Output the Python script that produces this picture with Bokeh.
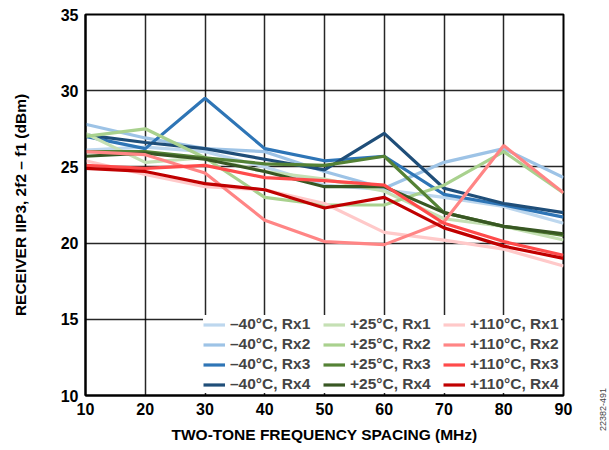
import math
from bokeh.plotting import figure
from bokeh.models import Legend, LegendItem, FixedTicker, Range1d, Div
from bokeh.layouts import row
from bokeh.embed import file_html
from bokeh.resources import INLINE

freq = [10, 20, 30, 40, 50, 60, 70, 80, 90]

m40_rx1 = [26.1, 26.3, 26.0, 25.0, 23.8, 23.5, 23.0, 22.4, 21.3]
m40_rx2 = [27.8, 26.9, 26.2, 26.0, 24.7, 23.6, 25.3, 26.2, 24.3]
m40_rx3 = [27.0, 26.2, 29.5, 26.2, 25.4, 25.7, 23.2, 22.5, 21.7]
m40_rx4 = [27.1, 26.6, 26.2, 25.5, 24.8, 27.2, 23.6, 22.6, 22.0]

p25_rx1 = [27.2, 25.3, 25.6, 24.7, 24.2, 23.4, 21.6, 21.1, 20.2]
p25_rx2 = [27.0, 27.5, 25.6, 23.0, 22.5, 22.5, 23.8, 26.0, 23.3]
p25_rx3 = [26.0, 26.0, 25.6, 25.2, 25.1, 25.7, 22.0, 21.1, 20.5]
p25_rx4 = [25.7, 25.9, 25.5, 24.7, 23.7, 23.7, 22.0, 21.1, 20.6]

p110_rx1 = [25.4, 24.5, 23.7, 23.5, 22.6, 20.7, 20.2, 19.6, 18.5]
p110_rx2 = [26.0, 25.8, 24.6, 21.5, 20.1, 19.9, 21.4, 26.4, 23.3]
p110_rx3 = [25.1, 24.9, 25.1, 24.3, 24.1, 23.8, 21.3, 20.1, 19.2]
p110_rx4 = [24.9, 24.7, 23.9, 23.5, 22.3, 23.0, 21.0, 19.8, 19.0]

labels = ["\u201340\u00b0C, Rx1", "\u201340\u00b0C, Rx2", "\u201340\u00b0C, Rx3", "\u201340\u00b0C, Rx4",
          "+25\u00b0C, Rx1", "+25\u00b0C, Rx2", "+25\u00b0C, Rx3", "+25\u00b0C, Rx4",
          "+110\u00b0C, Rx1", "+110\u00b0C, Rx2", "+110\u00b0C, Rx3", "+110\u00b0C, Rx4"]
series = [m40_rx1, m40_rx2, m40_rx3, m40_rx4,
          p25_rx1, p25_rx2, p25_rx3, p25_rx4,
          p110_rx1, p110_rx2, p110_rx3, p110_rx4]
colors = ["#bdd7ee", "#9dc3e6", "#2e75b6", "#1f4e79",
          "#c5e0b4", "#a9d18e", "#548235", "#385723",
          "#ffc9c9", "#ff8585", "#ff4b4b", "#c00000"]

x_ticks = [10, 20, 30, 40, 50, 60, 70, 80, 90]
y_ticks = [10, 15, 20, 25, 30, 35]

FONT = "Liberation Sans"

p = figure(width=588, height=450, output_backend="svg", toolbar_location=None,
           x_range=Range1d(10, 90), y_range=Range1d(10, 35),
           min_border_left=85, min_border_right=25, min_border_top=14, min_border_bottom=55)

renderers = []
for ys, c in zip(series, colors):
    r = p.line(freq, ys, line_color=c, line_width=3.2)
    renderers.append(r)

items = [LegendItem(label=l, renderers=[r]) for l, r in zip(labels, renderers)]
legend = Legend(items=items, location="bottom_right", orientation="vertical", nrows=4,
                background_fill_color="white", background_fill_alpha=1.0,
                border_line_color=None, label_text_font=FONT, label_text_font_style="bold",
                label_text_font_size="15.5px", glyph_width=22, glyph_height=17,
                label_standoff=5, spacing=2, padding=5, margin=2, label_width=91,
                label_height=17, label_text_line_height=1.0)
p.add_layout(legend, "center")

p.xaxis.ticker = FixedTicker(ticks=x_ticks)
p.yaxis.ticker = FixedTicker(ticks=y_ticks)
for ax in (p.xaxis, p.yaxis):
    ax.major_tick_in = 0
    ax.major_tick_out = 0
    ax.minor_tick_in = 0
    ax.minor_tick_out = 0
    ax.axis_line_color = "black"
    ax.axis_line_width = 2
    ax.major_label_text_font = FONT
    ax.major_label_text_font_style = "bold"
    ax.major_label_text_font_size = "16px"
    ax.major_label_text_color = "black"
    ax.axis_label_text_font = FONT
    ax.axis_label_text_font_style = "bold"
    ax.axis_label_text_font_size = "15.5px"
    ax.axis_label_text_color = "black"

p.xaxis.axis_label = "TWO-TONE FREQUENCY SPACING (MHz)"
p.yaxis.axis_label = "RECEIVER IIP3, 2f2 \u2013 f1 (dBm)"
p.xaxis.major_label_standoff = 7
p.yaxis.major_label_standoff = 7
p.xaxis.axis_label_standoff = 8
p.yaxis.axis_label_standoff = 29

p.xgrid.grid_line_color = "black"
p.ygrid.grid_line_color = "black"
p.xgrid.grid_line_width = 1.5
p.ygrid.grid_line_width = 1.5
p.xgrid.grid_line_alpha = 0.85
p.ygrid.grid_line_alpha = 0.85

p.outline_line_color = "black"
p.outline_line_width = 2

code = Div(width=21, height=450,
           text='<div style="position:absolute; top:383px; left:4px; writing-mode:vertical-rl; '
                'transform:rotate(180deg); font-family:\'Liberation Sans\'; font-size:9px; '
                'color:#444444; white-space:nowrap;">22382-491</div>')

layout = row(p, code, spacing=0)

open("out.html", "w").write(file_html(layout, INLINE))
